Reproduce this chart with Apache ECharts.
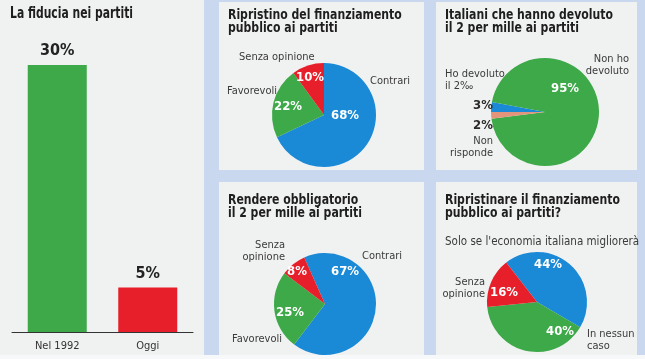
<!DOCTYPE html>
<html>
<head>
<meta charset="utf-8">
<script src="https://cdn.jsdelivr.net/npm/echarts@6/dist/echarts.min.js"></script>
<style>
html,body{margin:0;padding:0;background:#fff;}
#c{width:645px;height:359px;}
</style>
</head>
<body>
<div id="c"></div>
<script>
// ---- data ----
const barCategories = ['Nel 1992', 'Oggi'];
const barValues = [30, 5];

const pie1Names = ['Contrari', 'Favorevoli', 'Senza opinione'];
const pie1Values = [68, 22, 10];

const pie2Names = ['Ho devoluto il 2‰', 'Non ho devoluto', 'Non risponde'];
const pie2Values = [3, 95, 2];

const pie3Names = ['Contrari', 'Favorevoli', 'Senza opinione'];
const pie3Values = [67, 25, 8];

const pie4Names = ["Solo se l'economia italiana migliorerà", 'In nessun caso', 'Senza opinione'];
const pie4Values = [44, 40, 16];

const titles = [
  'La fiducia nei partiti',
  'Ripristino del finanziamento\npubblico ai partiti',
  'Italiani che hanno devoluto\nil 2 per mille ai partiti',
  'Rendere obbligatorio\nil 2 per mille ai partiti',
  'Ripristinare il finanziamento\npubblico ai partiti?'
];

// ---- style / layout ----
const FONT = '"Liberation Sans Narrow","DejaVu Sans Condensed","Liberation Sans",sans-serif';
const BLUE = '#1b8ad6', GREEN = '#3da948', RED = '#e61f2a', SALMON = '#e3957c';
const TXT = '#2a2a2a', LBL = '#3a3a3a';

const chart = echarts.init(document.getElementById('c'), null, {renderer: 'canvas'});

function pct(v) { return v + '%'; }

function pieSeries(names, values, colors, center, radius, startAngle, pctPos, labelColors) {
  return {
    type: 'pie',
    center: center,
    radius: radius,
    startAngle: startAngle,
    clockwise: true,
    animation: false,
    silent: true,
    itemStyle: {borderWidth: 0},
    label: {
      show: true, position: 'inside',
      formatter: p => pct(p.value),
      fontFamily: FONT, fontWeight: 'bold', fontSize: 13, color: '#fff'
    },
    labelLine: {show: false},
    labelLayout: p => ({x: pctPos[p.dataIndex][0], y: pctPos[p.dataIndex][1], align: 'center', verticalAlign: 'middle'}),
    data: names.map((n, i) => ({
      name: n, value: values[i],
      itemStyle: {color: colors[i]},
      label: {color: labelColors ? labelColors[i] : '#fff'}
    }))
  };
}

function txt(x, y, text, opt) {
  opt = opt || {};
  return {
    type: 'text', x: x, y: y, z: 10, silent: true,
    scaleX: opt.sx || 1,
    style: {
      text: text,
      fontFamily: FONT,
      fontSize: opt.size || 11,
      fontWeight: opt.weight || 'normal',
      fill: opt.color || LBL,
      textAlign: opt.align || 'left',
      textVerticalAlign: opt.valign || 'middle',
      lineHeight: opt.lh || 12
    }
  };
}

const panels = [
  [0, 0, 204, 355],
  [219, 2, 205, 168],
  [436, 2, 201, 168],
  [219, 182, 205, 173],
  [436, 182, 201, 173]
];

const graphics = [];
panels.forEach(p => graphics.push({
  type: 'rect', z: -10, silent: true,
  shape: {x: p[0], y: p[1], width: p[2], height: p[3]},
  style: {fill: '#f0f1f1'}
}));
graphics.push({type: 'rect', z: -10, silent: true, shape: {x: 0, y: 355, width: 645, height: 4}, style: {fill: '#f7f8fa'}});

// titles
const titleOpt = {size: 14, weight: 'bold', color: '#1e1e1e', valign: 'top', lh: 13, sx: 0.865};
graphics.push(txt(10, 7, titles[0], {size: 15, weight: 'bold', color: '#1e1e1e', valign: 'top', lh: 14, sx: 0.8}));
graphics.push(txt(228, 9, titles[1], titleOpt));
graphics.push(txt(445, 9, titles[2], titleOpt));
graphics.push(txt(228, 194, titles[3], titleOpt));
graphics.push(txt(445, 194, titles[4], titleOpt));

// outside category labels
graphics.push(txt(239, 57, pie1Names[2]));
graphics.push(txt(227, 91, pie1Names[1]));
graphics.push(txt(370, 81, pie1Names[0]));

graphics.push(txt(629, 65, 'Non ho\ndevoluto', {align: 'right'}));
graphics.push(txt(445, 80, 'Ho devoluto\nil 2‰'));
graphics.push(txt(493, 147, 'Non\nrisponde', {align: 'right'}));

graphics.push(txt(285, 251, 'Senza\nopinione', {align: 'right'}));
graphics.push(txt(362, 256, pie3Names[0]));
graphics.push(txt(232, 339, pie3Names[1]));

graphics.push(txt(445, 242, pie4Names[0], {size: 11.5}));
graphics.push(txt(485, 288, 'Senza\nopinione', {align: 'right'}));
graphics.push(txt(587, 340, 'In nessun\ncaso'));

const option = {
  backgroundColor: '#c9d7ef',
  animation: false,
  graphic: graphics,
  grid: {left: 12, right: 452, top: 65, bottom: 27, containLabel: false},
  xAxis: {
    type: 'category', data: barCategories,
    axisLine: {lineStyle: {color: '#333', width: 1}},
    axisTick: {show: false},
    axisLabel: {fontFamily: FONT, fontSize: 11, color: '#333', margin: 9}
  },
  yAxis: {type: 'value', min: 0, max: 30, show: false, splitLine: {show: false}},
  series: [
    {
      type: 'bar', data: barValues.map((v, i) => ({value: v, itemStyle: {color: i === 0 ? GREEN : RED}})),
      barWidth: 59, silent: true,
      label: {show: true, position: 'top', distance: 6, formatter: p => pct(p.value),
        fontFamily: FONT, fontWeight: 'bold', fontSize: 16, color: '#222'}
    },
    pieSeries(pie1Names, pie1Values, [BLUE, GREEN, RED], [324, 115], 52, 90,
      [[345, 116], [288, 107], [310, 78]]),
    pieSeries(pie2Names, pie2Values, [BLUE, GREEN, SALMON], [545, 112], 54, 180,
      [[483, 106], [565, 89], [483, 126]], [TXT, '#fff', TXT]),
    pieSeries(pie3Names, pie3Values, [BLUE, GREEN, RED], [325, 304], 51, 114,
      [[345, 272], [290, 313], [297, 272]]),
    pieSeries(pie4Names, pie4Values, [BLUE, GREEN, RED], [537, 302], 50, 128,
      [[548, 265], [560, 332], [504, 293]])
  ]
};
chart.setOption(option);
</script>
</body>
</html>
